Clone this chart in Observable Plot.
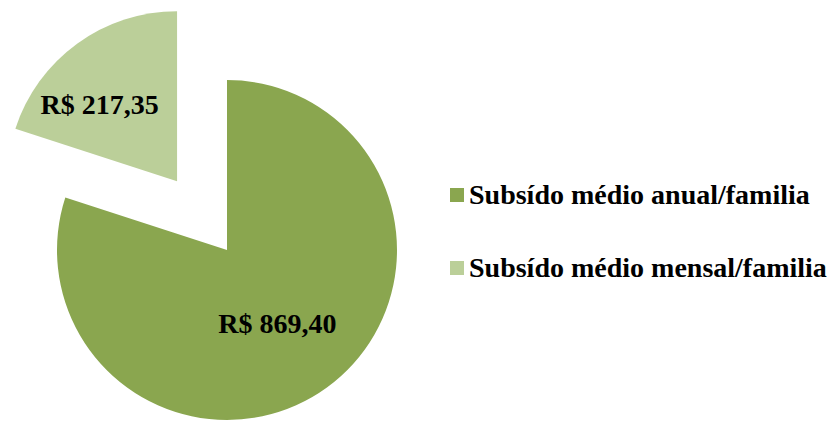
<!DOCTYPE html>
<html><head><meta charset="utf-8">
<script src="https://cdn.jsdelivr.net/npm/d3@7"></script>
<script src="https://cdn.jsdelivr.net/npm/@observablehq/plot@0.6"></script>
<style>
body{margin:0;background:#fff}
#wrap{position:relative;width:835px;height:421px;overflow:hidden}
#legend{position:absolute;left:450px;top:178px;font-family:"Liberation Serif","Times New Roman",serif;font-weight:bold;font-size:28px;color:#000}
.item{display:flex;align-items:center;height:34px;margin-bottom:39px;white-space:nowrap}
.sw{width:14px;height:14px;margin-right:5px;flex:none}
</style>
</head><body><div id="wrap"><div id="chart"></div><div id="legend"></div></div>
<script>
const categories = ["Subsído médio anual/familia", "Subsído médio mensal/familia"];
const values = [869.40, 217.35];
const valueLabels = ["R$ 869,40", "R$ 217,35"];
const colors = ["#8AA64F", "#BBCF99"];
const explode = [0, 0.5];

const data = categories.map((c, i) => ({category: c, value: values[i], label: valueLabels[i], color: colors[i], explode: explode[i]}));
const slices = d3.pie().sort(null).value(d => d.value)(data);
slices.forEach(s => { s.mid = (s.startAngle + s.endAngle) / 2; });

const labelFrac = [0.57, 0.62];
const labelPts = slices.map((s, i) => ({
  label: s.data.label,
  i,
  x: Math.sin(s.mid) * (s.data.explode + labelFrac[i]),
  y: Math.cos(s.mid) * (s.data.explode + labelFrac[i])
}));

function pieMark(index, scales, vals, dims, context) {
  const g = d3.create("svg:g");
  const cx = scales.x(0), cy = scales.y(0);
  const R = scales.x(1) - scales.x(0);
  const arc = d3.arc().innerRadius(0).outerRadius(R);
  for (const s of slices) {
    const off = s.data.explode * R;
    const dx = Math.sin(s.mid) * off, dy = -Math.cos(s.mid) * off;
    g.append("path")
      .attr("d", arc(s))
      .attr("fill", s.data.color)
      .attr("transform", `translate(${cx + dx},${cy + dy})`);
  }
  return g.node();
}

const textOpts = {x: "x", y: "y", text: "label", fontFamily: "Liberation Serif", fontWeight: "bold", fontSize: 28, fill: "#000"};
const W = 835, H = 421, R = 170, CX = 227, CY = 250;
const chart = Plot.plot({
  width: W, height: H,
  margin: 0,
  x: {domain: [-CX / R, (W - CX) / R], range: [0, W], axis: null},
  y: {domain: [-(H - CY) / R, CY / R], range: [H, 0], axis: null},
  style: {background: "#fff"},
  marks: [
    pieMark,
    Plot.text(labelPts.filter(d => d.i === 0), {...textOpts, dx: -7, dy: -5}),
    Plot.text(labelPts.filter(d => d.i === 1), {...textOpts, dx: -16, dy: 9})
  ]
});
document.getElementById("chart").appendChild(chart);

const legend = d3.select("#legend");
data.forEach(d => {
  const it = legend.append("div").attr("class", "item");
  it.append("div").attr("class", "sw").style("background", d.color);
  it.append("span").text(d.category);
});
</script>
</body></html>
